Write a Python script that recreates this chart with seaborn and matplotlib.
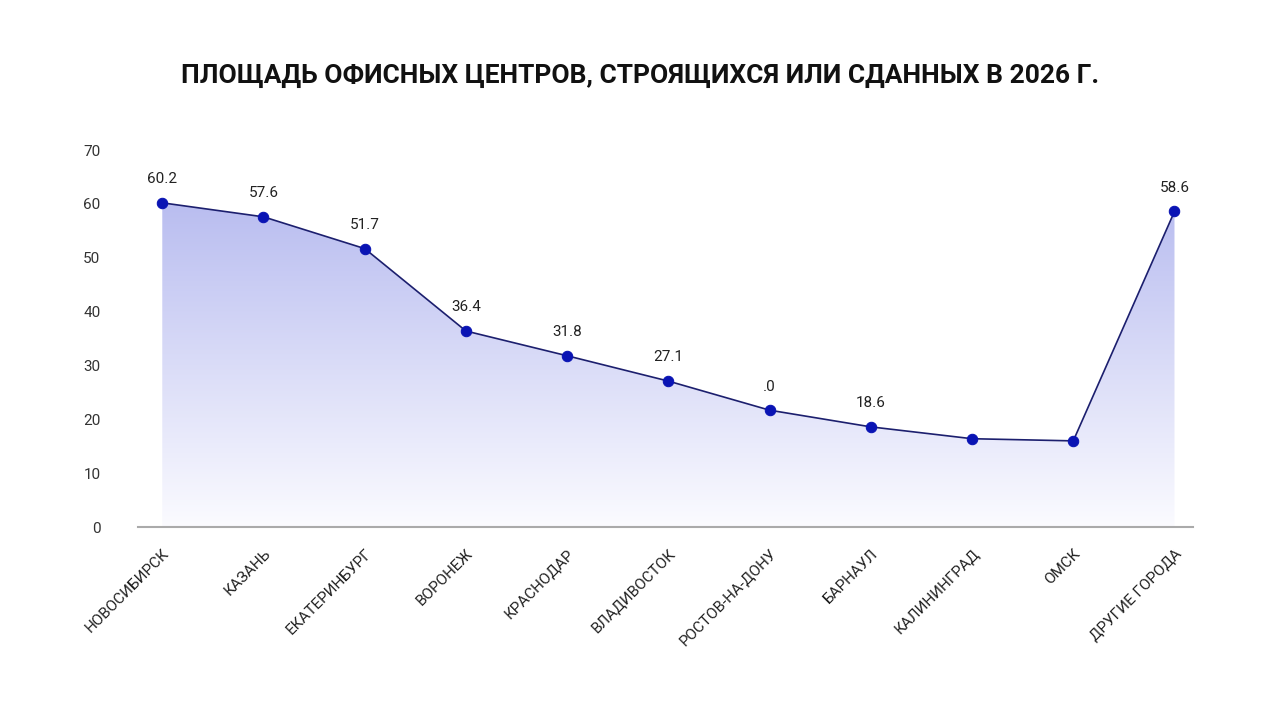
import numpy as np
import pandas as pd
import matplotlib
matplotlib.use("Agg")
import matplotlib.pyplot as plt
import seaborn as sns
from matplotlib.colors import LinearSegmentedColormap

cities = ["НОВОСИБИРСК", "КАЗАНЬ", "ЕКАТЕРИНБУРГ", "ВОРОНЕЖ", "КРАСНОДАР",
          "ВЛАДИВОСТОК", "РОСТОВ-НА-ДОНУ", "БАРНАУЛ", "КАЛИНИНГРАД", "ОМСК",
          "ДРУГИЕ ГОРОДА"]
values = [60.2, 57.6, 51.7, 36.4, 31.8, 27.1, 21.7, 18.6, 16.4, 16.0, 58.6]
value_labels = ["60.2", "57.6", "51.7", "36.4", "31.8", "27.1", ".0", "18.6", "", "", "58.6"]
y_ticks = [0, 10, 20, 30, 40, 50, 60, 70]
title = "ПЛОЩАДЬ ОФИСНЫХ ЦЕНТРОВ, СТРОЯЩИХСЯ ИЛИ СДАННЫХ В 2026 Г."

sns.set_theme(style="white")
plt.rcParams["font.family"] = ["Roboto", "DejaVu Sans"]

df = pd.DataFrame({"x": np.arange(len(cities)), "city": cities, "value": values})

fig = plt.figure(figsize=(12.8, 7.2), dpi=100)
ax = fig.add_axes([0.1078, 0.268, 0.824, 0.5236])

# gradient area fill
poly = ax.fill_between(df["x"], df["value"], 0, color="none", lw=0)
cmap = LinearSegmentedColormap.from_list("g", ["#fbfbff", "#b9bdf0"])
grad = np.linspace(0, 1, 256).reshape(-1, 1)
im = ax.imshow(grad, cmap=cmap, aspect="auto", origin="lower",
               extent=[df["x"].min(), df["x"].max(), 0, max(values)], zorder=1)
path = poly.get_paths()[0]
im.set_clip_path(path, transform=ax.transData)

sns.lineplot(data=df, x="x", y="value", ax=ax, color="#1c1f6e", lw=1.2,
             marker="o", markersize=7.5, markerfacecolor="#0a14b4",
             markeredgecolor="#0a14b4", zorder=3)

for xi, v, lab in zip(df["x"], values, value_labels):
    if lab:
        ax.annotate(lab, (xi, v), xytext=(0, 12), textcoords="offset points",
                    ha="center", va="bottom", fontsize=11, color="#222222")

ax.set_xlim(-0.24, 10.18)
ax.set_ylim(0, 70)
ax.set_yticks(y_ticks)
ax.set_yticklabels([str(t) for t in y_ticks], fontsize=11, color="#333333")
ax.set_xticks(df["x"])
ax.set_xticklabels(cities, rotation=45, ha="right", rotation_mode="anchor",
                   fontsize=11, color="#222222")
ax.tick_params(axis="y", length=0, pad=27)
ax.tick_params(axis="x", length=0, pad=14)
ax.set_xlabel("")
ax.set_ylabel("")
for s in ["top", "right", "left"]:
    ax.spines[s].set_visible(False)
ax.spines["bottom"].set_color("#aaaaaa")
ax.spines["bottom"].set_linewidth(1.5)
ax.grid(False)

fig.text(0.5, 0.895, title, ha="center", va="center", fontsize=19,
         fontweight="bold", color="#111111")

fig.savefig("out.png", dpi=100, facecolor="white")
